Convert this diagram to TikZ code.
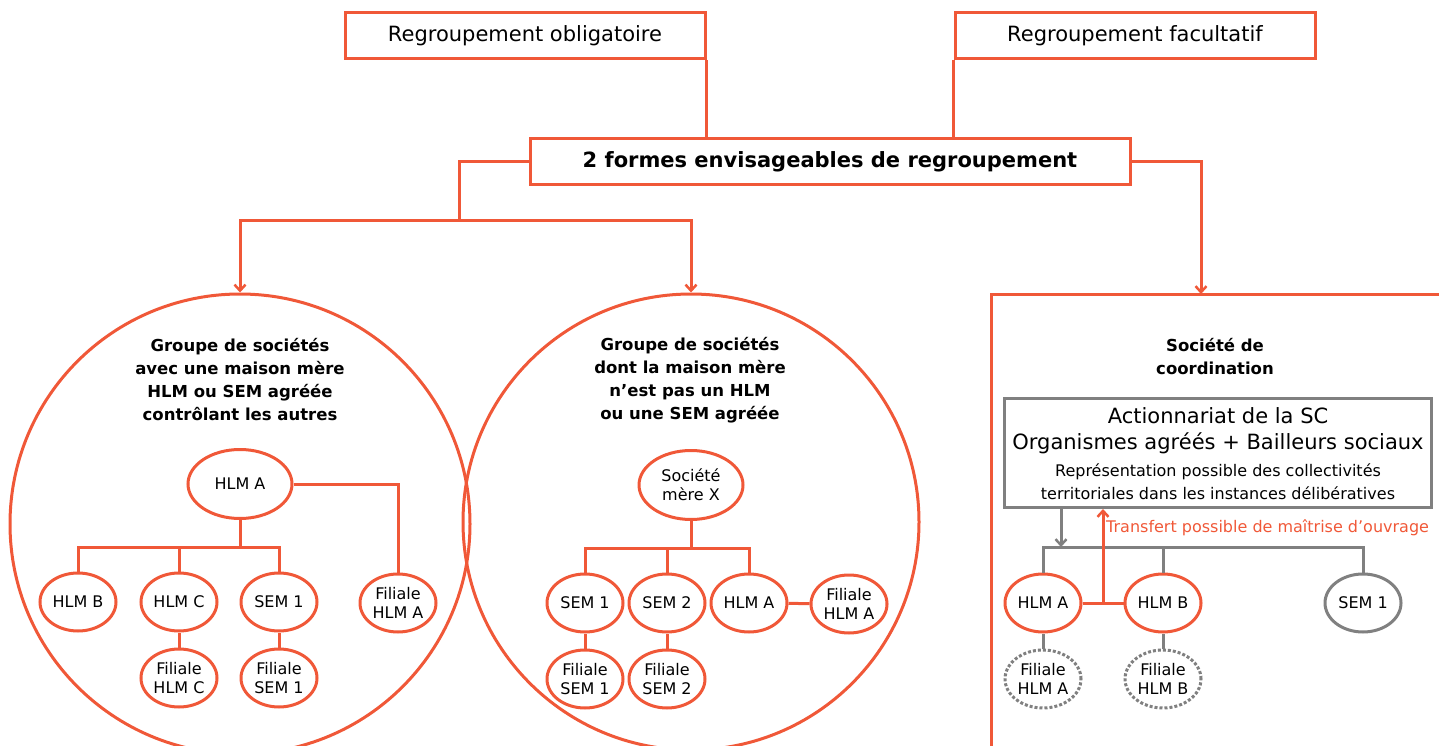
\documentclass[tikz,border=0pt]{standalone}
\usepackage{fontspec}
\setmainfont{DejaVu Sans}
\usetikzlibrary{shapes.geometric,arrows.meta}
\definecolor{orgc}{RGB}{240,88,56}
\definecolor{grayc}{RGB}{128,128,128}
\tikzset{orgbox/.style={draw=orgc,line width=3pt,minimum height=46pt,inner sep=0pt},
 orgell/.style={ellipse,draw=orgc,line width=3pt,minimum width=76pt,minimum height=58pt,inner sep=0pt,align=center,font=\fontsize{16}{19}\selectfont},
 bigell/.style={orgell,minimum width=104pt,minimum height=69pt},
 grayell/.style={orgell,draw=grayc},
 dotell/.style={orgell,draw=grayc,dotted,line width=3pt},
 circtitle/.style={align=center,font=\fontsize{16.5}{23}\selectfont\bfseries},
 link/.style={draw=orgc,line width=3pt},
 arrowlink/.style={link,-{Straight Barb[length=6pt,width=11pt,line width=2.5pt]}},
 graylink/.style={draw=grayc,line width=3pt},
 grayarrow/.style={graylink,-{Straight Barb[length=6pt,width=11pt,line width=2.5pt]}},
 }
\newcommand{\smalltxt}{\fontsize{16}{20}\selectfont}
\begin{document}
\begin{tikzpicture}[x=1pt,y=-1pt]
    \useasboundingbox (0,0) rectangle (1439,746);
    \clip (0,0) rectangle (1439,746);
    % top of the chart
    \node[orgbox,minimum width=360pt,font=\fontsize{21}{24}\selectfont] (oblig) at (525,36) {Regroupement obligatoire};
    \node[orgbox,minimum width=360pt,font=\fontsize{21}{24}\selectfont] (facul) at (1135,36) {Regroupement facultatif};
    \node[orgbox,minimum width=600pt,font=\fontsize{21}{24}\selectfont\bfseries] (formes) at (830,162) {2 formes envisageables de regroupement};
    \draw[link] (oblig.south east) -- (oblig.south east |- formes.north);
    \draw[link] (facul.south west) -- (facul.south west |- formes.north);

    % the two groups
    \node[circle,draw=orgc,line width=3pt,minimum size=460pt,inner sep=0pt] (grpA) at (240,524) {};
    \node[circle,draw=orgc,line width=3pt,minimum size=456pt,inner sep=0pt] (grpB) at (691,522) {};
    \coordinate (fork) at (459,220);
    \draw[link] (formes.west) -| (fork);
    \draw[arrowlink] (fork) -| (grpA.north);
    \draw[arrowlink] (fork) -| (grpB.north);

    \node[circtitle] (titA) at (240,380) {Groupe de sociétés\\avec une maison mère\\HLM ou SEM agréée\\contrôlant les autres};
    \node[bigell] (a0) at (240,484) {HLM A};
    \node[orgell] (a1) at (78,602) {HLM B};
    \node[orgell] (a2) at (179,602) {HLM C};
    \node[orgell] (a3) at (279,602) {SEM 1};
    \node[orgell] (a4) at (398,603) {Filiale\\HLM A};
    \node[orgell] (a5) at (179,678) {Filiale\\HLM C};
    \node[orgell] (a6) at (279,678) {Filiale\\SEM 1};
    \coordinate (abar) at (240,547);
    \draw[link] (a0.south) -- (abar);
    \foreach \n in {a1,a2,a3}
        \draw[link] (\n.north) |- (abar);
    \draw[link] (a0.east) -| (a4.north);
    \draw[link] (a2) -- (a5);
    \draw[link] (a3) -- (a6);

    \node[circtitle] (titB) at (690,380) {Groupe de sociétés\\dont la maison mère\\n’est pas un HLM\\ou une SEM agréée};
    \node[bigell] (b0) at (691,485) {Société\\mère X};
    \node[orgell] (b1) at (585,603) {SEM 1};
    \node[orgell] (b2) at (667,603) {SEM 2};
    \node[orgell] (b3) at (749,603) {HLM A};
    \node[orgell] (b4) at (849,604) {Filiale\\HLM A};
    \node[orgell] (b5) at (585,679) {Filiale\\SEM 1};
    \node[orgell] (b6) at (667,679) {Filiale\\SEM 2};
    \coordinate (bbar) at (691,548);
    \draw[link] (b0.south) -- (bbar);
    \foreach \n in {b1,b2,b3}
        \draw[link] (\n.north) |- (bbar);
    \draw[link] (b3) -- (b4);
    \draw[link] (b1) -- (b5);
    \draw[link] (b2) -- (b6);

    % societe de coordination
    \coordinate (scl) at (991,294);
    \coordinate (sctop) at (1201,294);
    \draw[link] (991,746) -- (scl) -- (1439,294);
    \draw[arrowlink] (formes.east) -| (sctop);
    \node[circtitle] (titC) at (1215,357) {Société de\\coordination};
    \node[draw=grayc,line width=3pt,minimum width=427pt,minimum height=109pt,inner sep=0pt] (ac) at (1218,453) {};
    \node[align=center,font=\fontsize{21}{26}\selectfont,inner sep=0pt] (actext) at (1218,454)
        {Actionnariat de la SC\\
         Organismes agréés + Bailleurs sociaux\\[1pt]
         \smalltxt Représentation possible des collectivités\\[-3pt]
         \smalltxt territoriales dans les instances délibératives};
    \node[orgell] (c1) at (1043,603) {HLM A};
    \node[orgell] (c2) at (1163,603) {HLM B};
    \node[grayell] (c3) at (1363,603) {SEM 1};
    \node[dotell] (c4) at (1043,679) {Filiale\\HLM A};
    \node[dotell] (c5) at (1163,679) {Filiale\\HLM B};
    \coordinate (cbar) at (1043,547);
    \coordinate (cin) at (1061,547);
    \draw[graylink] (c1.north) -- (cbar) -| (c3.north);
    \draw[graylink] (c2.north) -- (c2.north |- cbar);
    \draw[grayarrow] (ac.south -| cin) -- (cin);
    \draw[graylink] (c1) -- (c4);
    \draw[graylink] (c2) -- (c5);
    \draw[link] (c1) -- (c2);
    \coordinate (cmid) at (1103,603);
    \draw[arrowlink] (cmid) -- (ac.south -| cmid);
    \node[anchor=west,text=orgc,font=\fontsize{16}{18}\selectfont,inner sep=0pt] (transfert) at (1106,528) {Transfert possible de maîtrise d’ouvrage};
\end{tikzpicture}
\end{document}
